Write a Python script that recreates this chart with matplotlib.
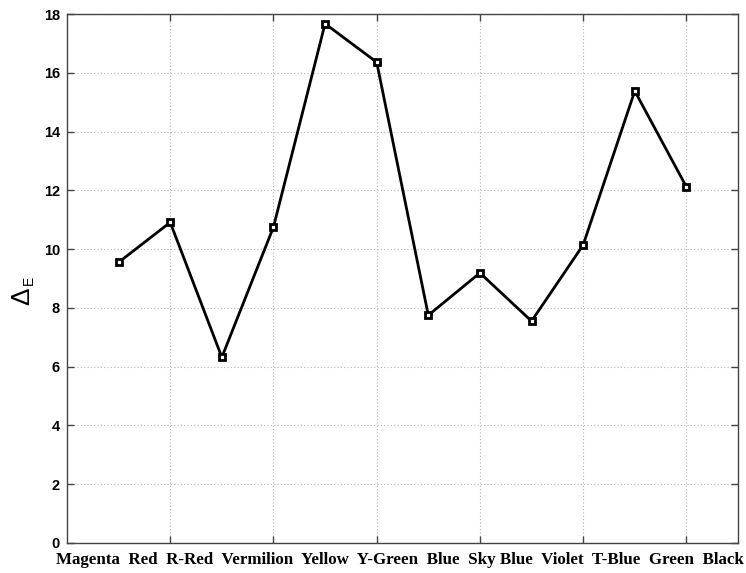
import matplotlib
matplotlib.use("Agg")
import matplotlib.pyplot as plt
import numpy as np

categories = ["Magenta", "Red", "R-Red", "Vermilion", "Yellow", "Y-Green",
              "Blue", "Sky Blue", "Violet", "T-Blue", "Green", "Black"]
delta_e = [9.55, 10.91, 6.32, 10.75, 17.67, 16.36, 7.75, 9.19, 7.55, 10.14, 15.38, 12.12]
y_ticks = [0, 2, 4, 6, 8, 10, 12, 14, 16, 18]
x_grid_ticks = [2, 4, 6, 8, 10, 12]

W, H = 746, 573
fig = plt.figure(figsize=(W / 100, H / 100), dpi=100)
ax = fig.add_axes([67 / W, 30 / H, (738 - 67) / W, (543 - 14) / H])

x = np.arange(1, len(delta_e) + 1)
ax.plot(x, delta_e, color="black", lw=2.0, marker="s", ms=5.0,
        mfc="white", mec="black", mew=2.0, zorder=3)

ax.set_xlim(0, 13)
ax.set_ylim(0, 18)
ax.set_xticks(x_grid_ticks)
ax.set_xticklabels([])
ax.set_yticks(y_ticks)
ax.set_yticklabels([str(v) for v in y_ticks], family="Liberation Sans",
                   fontsize=10.5, weight="bold")
ax.tick_params(direction="in", top=True, right=True, length=5, width=1,
               color="#444444", pad=5)
ax.grid(True, linestyle=(0, (1, 2)), color="#b5b5b5", lw=0.8)
for s in ax.spines.values():
    s.set_color("#444444")
    s.set_linewidth(1.0)

# category labels as one centered line under the axis
label_str = "  ".join(categories)
t = fig.text(400 / W, 1 - 560 / H, label_str, ha="center", va="center",
             family="Liberation Serif", weight="bold", fontsize=10)
fig.canvas.draw()
wpx = t.get_window_extent(fig.canvas.get_renderer()).width
t.set_fontsize(10 * 690 / wpx)

# y label: Delta with small E
fig.text(22 / W, 1 - 296 / H, "\u0394", rotation=90, ha="center", va="center",
         family="Liberation Sans", fontsize=19)
fig.text(29 / W, 1 - 280 / H, "E", rotation=90, ha="center", va="center",
         family="Liberation Sans", fontsize=10)

fig.savefig("out.png", dpi=100)
